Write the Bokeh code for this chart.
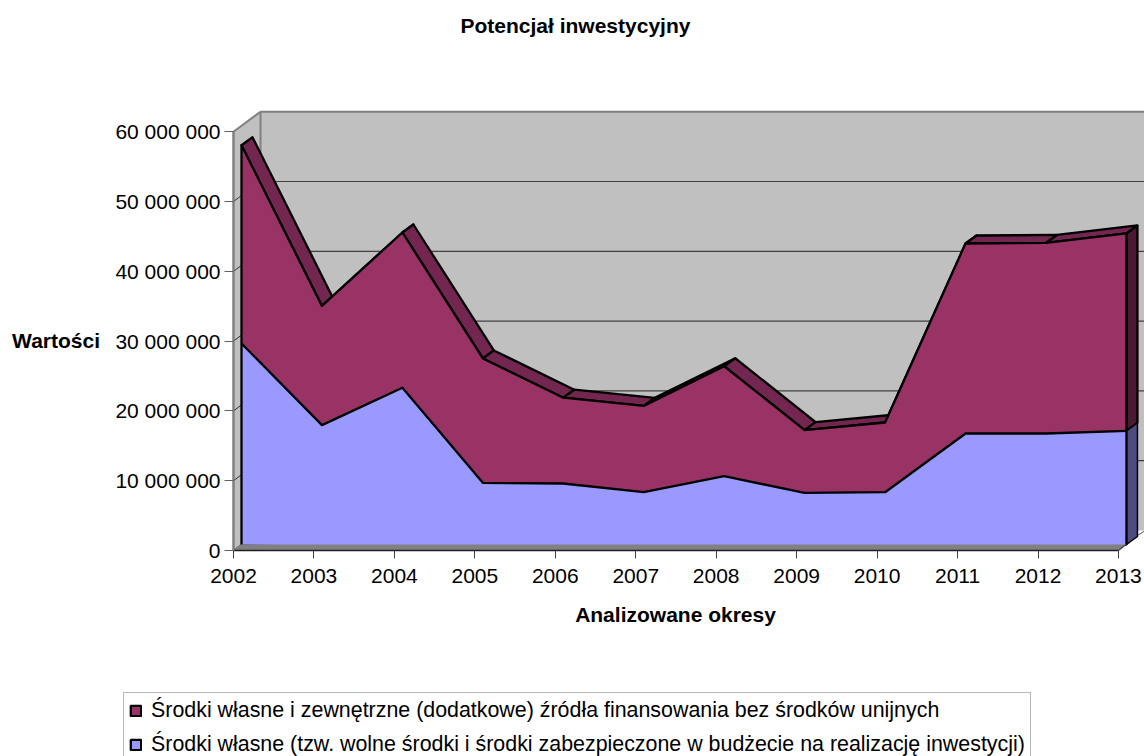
from bokeh.plotting import figure
from bokeh.models import Range1d, FixedTicker, Label, Legend, LegendItem, Title
from bokeh.embed import file_html
from bokeh.resources import INLINE
import numpy as np

years = [2002, 2003, 2004, 2005, 2006, 2007, 2008, 2009, 2010, 2011, 2012, 2013]
own_funds = [28.8, 17.1, 22.46, 8.83, 8.74, 7.49, 9.79, 7.39, 7.49, 15.9, 15.9, 16.28]
extra_funds = [28.4, 17.08, 22.24, 17.82, 12.29, 12.37, 15.75, 8.99, 9.99, 27.22, 27.3, 28.28]
y_ticks = [0, 10, 20, 30, 40, 50, 60]
y_tick_labels = ["0", "10 000 000", "20 000 000", "30 000 000", "40 000 000", "50 000 000", "60 000 000"]
title_text = "Potencjał inwestycyjny"
x_title = "Analizowane okresy"
y_title = "Wartości"
legend_purple = "Środki własne i zewnętrzne (dodatkowe) źródła finansowania bez środków unijnych"
legend_blue = "Środki własne (tzw. wolne środki i środki zabezpieczone w budżecie na realizację inwestycji)"

PURPLE, PURPLE_TOP, PURPLE_SIDE = "#993366", "#732650", "#4C1933"
BLUE, BLUE_SIDE = "#9999FF", "#4C4C80"
WALL, FLOOR = "#C0C0C0", "#808080"
FONT = "Liberation Sans"
FS = "21px"
EDGE = 2.3

# scale of the drawing: pixels per year and per 10 million
PX_X, PX_Y = 80.45, 69.8
dx = lambda px: px / PX_X
dy = lambda px: px / PX_Y * 1e7

W, H = 1144, 756
ORIGIN_X, ORIGIN_Y, FRAME_TOP = 233, 550, 42
x_start = years[0] - dx(ORIGIN_X)
x_end = years[0] + dx(W - ORIGIN_X)
y_start = -dy(H - ORIGIN_Y)
y_end = dy(ORIGIN_Y - FRAME_TOP)

p = figure(width=W, height=H, output_backend="svg", toolbar_location=None,
           x_range=Range1d(x_start, x_end), y_range=Range1d(y_start, y_end),
           min_border_left=0, min_border_right=0, min_border_top=FRAME_TOP, min_border_bottom=0)
p.outline_line_color = None
p.grid.visible = False
p.background_fill_color = None
p.border_fill_color = "white"

p.title = Title(text=title_text, align="left", offset=460, standoff=11,
                text_font=FONT, text_font_size=FS, text_font_style="bold", text_color="black")

yr = np.array(years, float)
base = np.zeros(len(yr))
low = np.array(own_funds) * 1e6
top = low + np.array(extra_funds) * 1e6
tick_vals = [v * 1e6 for v in y_ticks]

# series geometry: front face and back edge of the extruded band
fx, fy = dx(8), dy(6)
ex, ey = dx(11), dy(8)
X = yr + fx
Y_low, Y_top, Y_base = low + fy, top + fy, base + fy

# outlined faces that key the legend; the walls and the plain faces are painted over them
r_purple = p.patch(np.r_[X, X[::-1]], np.r_[Y_top, Y_low[::-1]], fill_color=PURPLE, line_color="black", line_width=EDGE)
r_blue = p.patch(np.r_[X, X[::-1]], np.r_[Y_low, Y_base[::-1]], fill_color=BLUE, line_color="black", line_width=EDGE)

# walls and floor
wx, wy = dx(27), dy(20)
x0, x1, ymax = years[0], years[-1], tick_vals[-1]
p.patch([x0 + wx, x1 + wx, x1 + wx, x0 + wx], [wy, wy, ymax + wy, ymax + wy], fill_color=WALL, line_color=None)
p.line([x0 + wx, x1 + wx], [ymax + wy, ymax + wy], line_color=FLOOR, line_width=2)
p.patch([x0, x0 + wx, x0 + wx, x0], [0, wy, ymax + wy, ymax], fill_color=WALL, line_color=FLOOR, line_width=2)
p.patch([x0, x1, x1 + dx(19), x0 + dx(8)], [0, 0, dy(15), dy(6)], fill_color=FLOOR, line_color=None)
p.patch([x1 + dx(19), x1 + wx, x1 + wx], [dy(15), wy, wy], fill_color=FLOOR, line_color=FLOOR)
gv = tick_vals[1:-1]
p.segment([x0 + wx] * len(gv), [v + wy for v in gv], [x_end] * len(gv), [v + wy for v in gv],
          line_color="#404040", line_width=1.2)
p.segment([x0] * len(gv), gv, [x0 + dx(8)] * len(gv), [v + dy(6) for v in gv],
          line_color="#303030", line_width=1)
p.line([x1, x1 + dx(19)], [0, dy(15)], line_color="#404040", line_width=1.2)

# upper faces
qx = [[X[i], X[i + 1], X[i + 1] + ex, X[i] + ex] for i in range(len(X) - 1)]
qy = [[Y_top[i], Y_top[i + 1], Y_top[i + 1] + ey, Y_top[i] + ey] for i in range(len(X) - 1)]
p.patches(qx, qy, fill_color=PURPLE_TOP, line_color="black", line_width=EDGE, line_join="round")
# right faces
p.patch([X[-1], X[-1] + ex, X[-1] + ex, X[-1]], [Y_low[-1], Y_low[-1] + ey, Y_top[-1] + ey, Y_top[-1]],
        fill_color=PURPLE_SIDE, line_color="black", line_width=EDGE)
p.patch([X[-1], X[-1] + ex, X[-1] + ex, X[-1]], [Y_base[-1], Y_base[-1] + ey, Y_low[-1] + ey, Y_low[-1]],
        fill_color=BLUE_SIDE, line_color="black", line_width=1.5)

# front faces
p.patch(np.r_[X, X[::-1]], np.r_[Y_top, Y_low[::-1]], fill_color=PURPLE, line_color=None)
p.patch(np.r_[X, X[::-1]], np.r_[Y_low, Y_base[::-1]], fill_color=BLUE, line_color=None)
p.line(np.r_[X[0], X, X[-1]], np.r_[Y_base[0], Y_top, Y_base[-1]], line_color="black", line_width=EDGE, line_join="round")
p.line(X, Y_low, line_color="black", line_width=EDGE, line_join="round")

# axes, fixed on the origin of the drawing
p.xaxis.fixed_location = 0
p.yaxis.fixed_location = years[0]
p.xaxis.ticker = FixedTicker(ticks=years)
p.xaxis.bounds = (years[0], years[-1])
p.xaxis.axis_line_color = "#202020"
p.xaxis.axis_line_width = 1.5
p.xaxis.major_tick_out = 8
p.xaxis.major_tick_in = 0
p.xaxis.major_tick_line_color = "#404040"
p.xaxis.minor_tick_line_color = None
p.xaxis.major_label_standoff = 10
p.xaxis.major_label_text_font = FONT
p.xaxis.major_label_text_font_size = FS
p.xaxis.major_label_text_color = "black"
p.xaxis.major_label_overrides = {y: str(y) for y in years}

p.yaxis.ticker = FixedTicker(ticks=tick_vals)
p.yaxis.bounds = (0, tick_vals[-1])
p.yaxis.axis_line_color = FLOOR
p.yaxis.axis_line_width = 2
p.yaxis.major_tick_out = 9
p.yaxis.major_tick_in = 0
p.yaxis.major_tick_line_color = "#606060"
p.yaxis.minor_tick_line_color = None
p.yaxis.major_label_standoff = 4
p.yaxis.major_label_text_font = FONT
p.yaxis.major_label_text_font_size = FS
p.yaxis.major_label_text_color = "black"
p.yaxis.major_label_overrides = dict(zip(tick_vals, y_tick_labels))

# axis titles
p.add_layout(Label(x=years[0] - dx(133.5), y=dy(210), text=y_title, text_font=FONT, text_font_size=FS,
                   text_font_style="bold", text_color="black", text_align="right", text_baseline="middle"))
p.add_layout(Label(x=years[0] + dx(442), y=dy(-64), text=x_title, text_font=FONT, text_font_size=FS,
                   text_font_style="bold", text_color="black", text_align="center", text_baseline="middle"))

# legend
legend = Legend(items=[LegendItem(label=legend_purple, renderers=[r_purple]),
                       LegendItem(label=legend_blue, renderers=[r_blue])],
                location=(123, -7), orientation="vertical",
                background_fill_color="white", background_fill_alpha=1,
                border_line_color="#707070", border_line_width=1.5,
                label_text_font=FONT, label_text_font_size="21.4px", label_text_color="black",
                glyph_width=13, glyph_height=13, label_standoff=9, spacing=9,
                label_height=20, padding=5, margin=0)
p.add_layout(legend, "center")

open("out.html", "w").write(file_html(p, INLINE))
